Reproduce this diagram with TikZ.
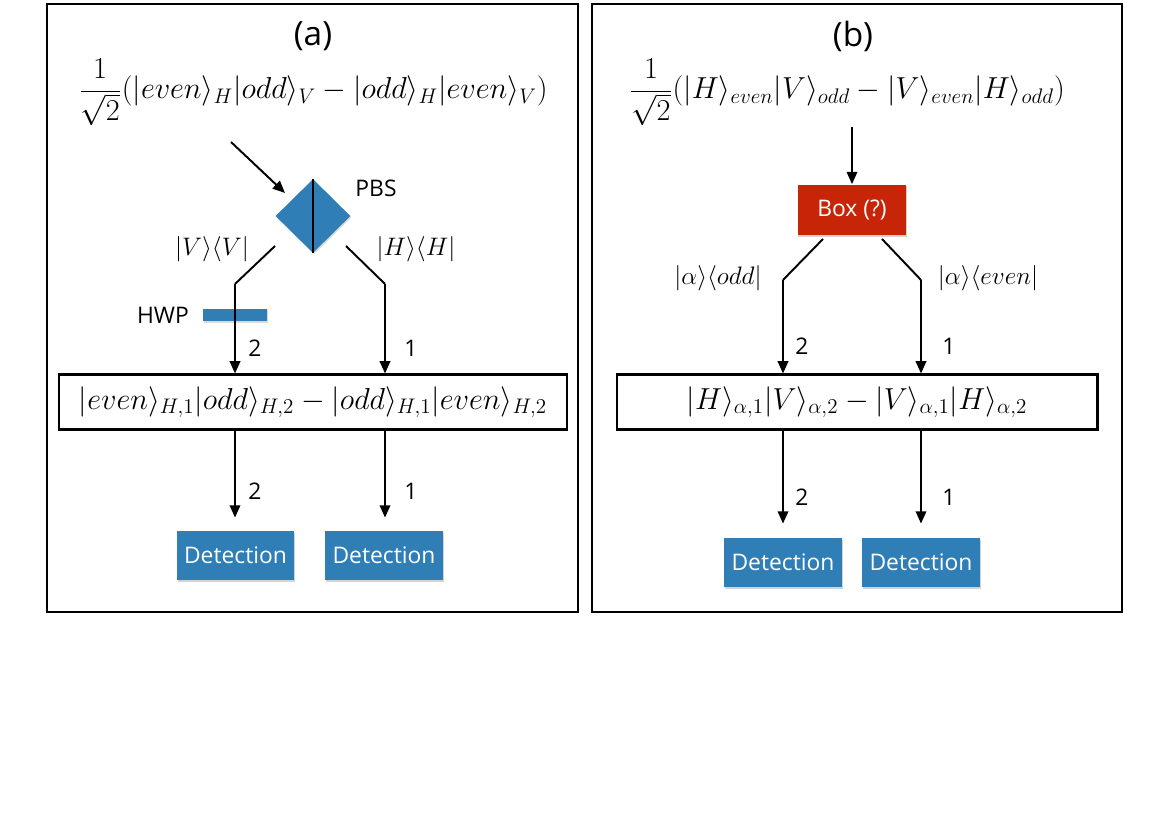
\documentclass[tikz,border=0pt]{standalone}
\usepackage{fontspec}
\setsansfont{Open Sans}
\usetikzlibrary{arrows.meta,shapes.geometric,shadows}
\definecolor{optblue}{RGB}{47,126,182}
\definecolor{boxred}{RGB}{200,36,8}
\tikzset{
  frame/.style={draw,line width=1.3pt},
  statebox/.style={draw,line width=1.2pt,minimum height=1.1cm,inner sep=0pt},
  det/.style={fill=optblue,text=white,font=\sffamily\fontsize{13}{15}\selectfont,inner sep=0pt,
     drop shadow={shadow xshift=0.5pt,shadow yshift=-1pt,opacity=0.35}},
  conn/.style={line width=1.1pt},
  arr/.style={line width=1.1pt,-{Triangle[length=7pt,width=6pt]}},
  lbl/.style={font=\sffamily\fontsize{13}{15}\selectfont,inner sep=0pt},
  mlbl/.style={font=\fontsize{15}{18}\selectfont,inner sep=0pt},
  big/.style={font=\fontsize{17.5}{21}\selectfont,inner sep=0pt},
  title/.style={font=\sffamily\fontsize{19}{22}\selectfont,inner sep=0pt}
}
\begin{document}
\begin{tikzpicture}[x=0.02cm,y=-0.02cm]
\useasboundingbox (0,0) rectangle (1170,827);
% ---------- panel (a)
\node[frame,minimum width=10.62cm,minimum height=12.16cm,inner sep=0pt] (fa) at (312.5,308) {};
\node[title] (ta) at (313,36) {(a)};
\node[big] (fma) at (313,92) {$\displaystyle\frac{1}{\sqrt{2}}(|even\rangle_H|odd\rangle_V-|odd\rangle_H|even\rangle_V)$};
\node[diamond,fill=optblue,inner sep=0pt,minimum width=1.5cm,minimum height=1.48cm,
  drop shadow={shadow xshift=0.5pt,shadow yshift=-0.8pt,opacity=0.3}] (pbs) at (313,216) {};
\draw[conn] (pbs.north) -- (pbs.south);
\node[lbl] (pbsl) at (376,188) {PBS};
\coordinate (inA) at (231,142);
\draw[arr] (inA) -- (285,193) coordinate (inAend);
\node[statebox,minimum width=10.16cm] (sa) at (313,402) {\fontsize{17.5}{21}\selectfont$|even\rangle_{H,1}|odd\rangle_{H,2}-|odd\rangle_{H,1}|even\rangle_{H,2}$};
\coordinate (la0) at (275,246);
\coordinate (la1) at (235,284);
\coordinate (ra0) at (346,246);
\coordinate (ra1) at (385,284);
\draw[conn] (la0) -- (la1);
\draw[conn] (ra0) -- (ra1);
\node[fill=optblue,inner sep=0pt,minimum width=1.28cm,minimum height=0.25cm,
  drop shadow={shadow xshift=0.5pt,shadow yshift=-0.8pt,opacity=0.3}] (hwp) at (235,315) {};
\draw[arr] (la1) -- (la1 |- sa.north);
\draw[arr] (ra1) -- (ra1 |- sa.north);
\node[mlbl] (vv) at (212,249) {$|V\rangle\langle V|$};
\node[mlbl] (hh) at (416,249) {$|H\rangle\langle H|$};
\node[lbl] (hwpl) at (163,315) {HWP};
\node[lbl] (a2) at (255,348) {2};
\node[lbl] (a1) at (411,348) {1};
\node[det,minimum width=2.34cm,minimum height=0.98cm] (da2) at (235.5,555.5) {Detection};
\node[det,minimum width=2.36cm,minimum height=0.98cm] (da1) at (384,555.5) {Detection};
\draw[arr] (la1 |- sa.south) -- ++(0,87) coordinate (ea2);
\draw[arr] (ra1 |- sa.south) -- ++(0,87) coordinate (ea1);
\node[lbl] (b2) at (255,491) {2};
\node[lbl] (b1) at (411,491) {1};
% ---------- panel (b)
\node[frame,minimum width=10.6cm,minimum height=12.16cm,inner sep=0pt] (fb) at (857,308) {};
\node[title] (tb) at (853,36) {(b)};
\node[big] (fmb) at (847,92) {$\displaystyle\frac{1}{\sqrt{2}}(|H\rangle_{even}|V\rangle_{odd}-|V\rangle_{even}|H\rangle_{odd})$};
\node[fill=boxred,text=white,font=\sffamily\fontsize{13}{15}\selectfont,inner sep=0pt,
  minimum width=2.18cm,minimum height=1.02cm,
  drop shadow={shadow xshift=0.5pt,shadow yshift=-1pt,opacity=0.35}] (bx) at (852,210) {Box (?)};
\coordinate (inB) at (852,127);
\draw[arr] (inB) -- (bx.north);
\node[statebox,minimum width=9.62cm] (sb) at (857,402) {\fontsize{17.5}{21}\selectfont$|H\rangle_{\alpha,1}|V\rangle_{\alpha,2}-|V\rangle_{\alpha,1}|H\rangle_{\alpha,2}$};
\coordinate (lb0) at (823,239);
\coordinate (lb1) at (783,280);
\coordinate (rb0) at (882,239);
\coordinate (rb1) at (921,280);
\draw[conn] (lb0) -- (lb1);
\draw[conn] (rb0) -- (rb1);
\draw[arr] (lb1) -- (lb1 |- sb.north);
\draw[arr] (rb1) -- (rb1 |- sb.north);
\node[mlbl] (ao) at (718,278) {$|\alpha\rangle\langle odd|$};
\node[mlbl] (ae) at (988,278) {$|\alpha\rangle\langle even|$};
\node[lbl] (c2) at (802,346) {2};
\node[lbl] (c1) at (949,346) {1};
\node[det,minimum width=2.36cm,minimum height=0.98cm] (db2) at (783,562.5) {Detection};
\node[det,minimum width=2.36cm,minimum height=0.98cm] (db1) at (921,562.5) {Detection};
\draw[arr] (lb1 |- sb.south) -- ++(0,93) coordinate (eb2);
\draw[arr] (rb1 |- sb.south) -- ++(0,93) coordinate (eb1);
\node[lbl] (d2) at (802,497) {2};
\node[lbl] (d1) at (949,497) {1};
\end{tikzpicture}
\end{document}
